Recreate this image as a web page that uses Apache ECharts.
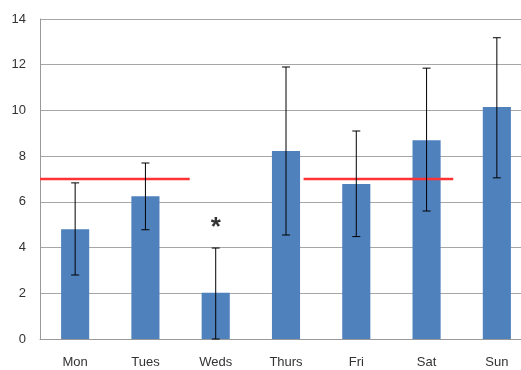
<!DOCTYPE html>
<html><head><meta charset="utf-8">
<script src="https://cdn.jsdelivr.net/npm/echarts@6/dist/echarts.min.js"></script>
<style>html,body{margin:0;padding:0;background:#fff}#c{width:521px;height:370px}</style>
</head><body><div id="c"></div>
<script>
const categories = ['Mon','Tues','Weds','Thurs','Fri','Sat','Sun'];
const means = [4.8, 6.25, 2.02, 8.22, 6.78, 8.7, 10.15];
const errLow = [2.8, 4.78, 0, 4.55, 4.48, 5.6, 7.05];
const errHigh = [6.83, 7.7, 3.98, 11.9, 9.1, 11.85, 13.18];
const refValue = 7;
const refSegments = [[-0.5, 1.63], [3.25, 5.38]];
const starCategory = 2;
const starValue = 4.85;
const yTicks = [0, 2, 4, 6, 8, 10, 12, 14];

const font = 'Liberation Sans';
const chart = echarts.init(document.getElementById('c'));
const refData = [];
refSegments.forEach((s, i) => {
  if (i > 0) refData.push([null, null]);
  refData.push([s[0], refValue], [s[1], refValue]);
});
chart.setOption({
  animation: false,
  grid: { left: 40, right: -11, top: 19, bottom: 31, containLabel: false, outerBoundsMode: 'none' },
  xAxis: [{
    type: 'category', data: categories,
    axisLine: { lineStyle: { color: '#999', width: 1 } },
    axisTick: { show: false },
    axisLabel: { color: '#333', fontFamily: font, fontSize: 13, margin: 17 }
  }, {
    type: 'value', min: -0.5, max: 6.5, show: false
  }],
  yAxis: {
    type: 'value', min: yTicks[0], max: yTicks[yTicks.length - 1], interval: 2,
    axisLine: { show: true, onZero: false, lineStyle: { color: '#999', width: 1 } },
    axisTick: { show: false },
    splitLine: { lineStyle: { color: '#a6a6a6', width: 1 } },
    axisLabel: { color: '#333', fontFamily: font, fontSize: 13, margin: 14 }
  },
  series: [{
    type: 'bar', data: means, barWidth: '40%',
    itemStyle: { color: '#4F81BD' }, z: 2
  }, {
    type: 'custom', z: 4,
    renderItem: function (params, api) {
      const i = api.value(0);
      const hi = api.coord([i, api.value(2)]);
      const lo = api.coord([i, api.value(1)]);
      const w = 4;
      const st = { stroke: '#000', lineWidth: 1 };
      return { type: 'group', children: [
        { type: 'line', shape: { x1: hi[0], y1: hi[1], x2: lo[0], y2: lo[1] }, style: st },
        { type: 'line', shape: { x1: hi[0] - w, y1: hi[1], x2: hi[0] + w, y2: hi[1] }, style: st },
        { type: 'line', shape: { x1: lo[0] - w, y1: lo[1], x2: lo[0] + w, y2: lo[1] }, style: st }
      ]};
    },
    data: categories.map((c, i) => [i, errLow[i], errHigh[i]])
  }, {
    type: 'line', xAxisIndex: 1, data: refData, symbol: 'none', z: 3,
    connectNulls: false,
    lineStyle: { color: '#FF3333', width: 2.5 }
  }, {
    type: 'scatter', symbolSize: 0, z: 5,
    data: [[starCategory, starValue]],
    label: { show: true, formatter: '*', position: 'inside', color: '#000',
      fontSize: 26, fontWeight: 'bold', fontFamily: font }
  }]
});
</script></body></html>
